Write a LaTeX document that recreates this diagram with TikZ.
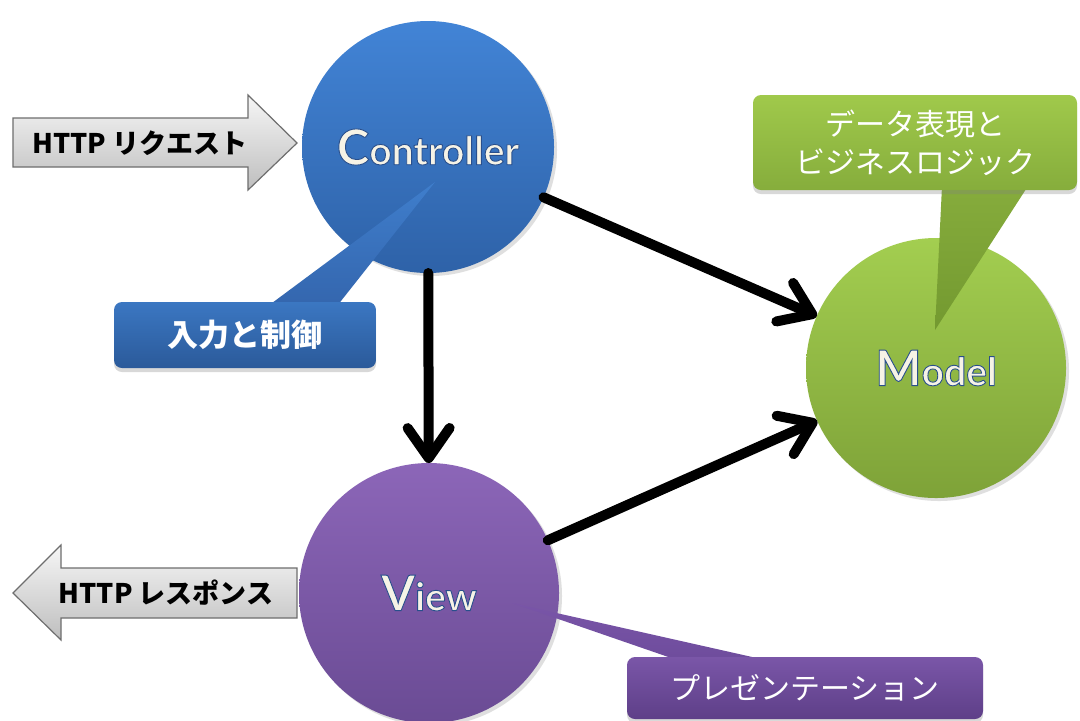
\documentclass[tikz,border=0pt]{standalone}
\usepackage{fontspec}
\setmainfont{Lato}
\newfontfamily\jp{Noto Sans CJK JP}
\usetikzlibrary{arrows.meta,shadows}

\definecolor{ctrlT}{HTML}{4284D6}
\definecolor{ctrlB}{HTML}{2E62A8}
\definecolor{modT}{HTML}{A3CE50}
\definecolor{modB}{HTML}{7EA238}
\definecolor{viewT}{HTML}{8C66B8}
\definecolor{viewB}{HTML}{6A4B94}
\definecolor{bluT}{HTML}{3B77C2}
\definecolor{bluB}{HTML}{2B5A9A}
\definecolor{bluTailT}{HTML}{3F7ECC}
\definecolor{bluTailB}{HTML}{3466AE}
\definecolor{grnT}{HTML}{A0C94B}
\definecolor{grnB}{HTML}{86AD3C}
\definecolor{grnTailT}{HTML}{86AC3C}
\definecolor{grnTailB}{HTML}{739930}
\definecolor{purT}{HTML}{7A56A8}
\definecolor{purB}{HTML}{5E3F88}
\definecolor{purTailT}{HTML}{7955A8}
\definecolor{purTailB}{HTML}{6E4C9C}
\definecolor{cream}{HTML}{F6F3E6}
\definecolor{httpT}{HTML}{F6F6F6}
\definecolor{httpB}{HTML}{BEBEBE}
\definecolor{httpE}{HTML}{6E6E6E}

\newcommand\mvclabel[2]{\special{pdf:literal direct q 2 Tr 0.45 w 0.16 0.31 0.55 RG}{\bfseries\fontsize{24.5}{24}\selectfont #1}{\bfseries\fontsize{19.5}{19}\selectfont #2}\special{pdf:literal direct Q}}

\begin{document}
\begin{tikzpicture}[x=0.5pt,y=-0.5pt,
  mvc/.style={circle, inner sep=0pt, outer sep=0pt, minimum size=#1, text=cream,
     drop shadow={shadow xshift=1.5pt, shadow yshift=-1.5pt, opacity=0.25}},
  conn/.style={line width=5pt, line cap=round, line join=round,
     -{Straight Barb[length=15pt,width=21pt,round]}},
  httpbox/.style={draw=httpE, line width=0.6pt, top color=httpT, bottom color=httpB},
  httptext/.style={font=\jp\bfseries\fontsize{13.5}{16}\selectfont, text=black, inner sep=0pt},
  callbox/.style={rounded corners=4pt, inner sep=0pt, text=white, align=center,
     font=\jp\fontsize{15}{19}\selectfont,
     drop shadow={shadow xshift=0pt, shadow yshift=-2pt, opacity=0.3}},
]
\useasboundingbox (0,0) rectangle (1080,720);
\fill[white] (0,0) rectangle (1080,720);
\clip (0,0) rectangle (1080,720);

% HTTP arrows
\path[httpbox] (13,118) -- (248,118) -- (248,95) -- (297,143) -- (248,190) -- (248,167) -- (13,167) -- cycle;
\node[httptext] (req) at (140,143) {HTTP リクエスト};
\path[httpbox] (297,568) -- (61,568) -- (61,545) -- (13,593) -- (61,640) -- (61,618) -- (297,618) -- cycle;
\node[httptext] (res) at (166,593) {HTTP レスポンス};

% circles
\node[mvc=126pt, top color=ctrlT, bottom color=ctrlB] (ctrl) at (428,147) {\mvclabel{C}{ontroller}};
\node[mvc=130pt, top color=modT, bottom color=modB] (model) at (936,368) {\mvclabel{M}{odel}};
\node[mvc=130pt, top color=viewT, bottom color=viewB] (view) at (429,593) {\mvclabel{V}{iew}};

% connectors
\draw[conn] (ctrl) -- (view);
\draw[conn] (ctrl) -- (model);
\draw[conn] (view) -- (model);

% callouts
\coordinate (ctrlpt) at (435,182);
\path[top color=bluTailT, bottom color=bluTailB] (268,306) -- (337,306) -- (ctrlpt) -- cycle;
\node[callbox, minimum width=131pt, minimum height=33pt, top color=bluT, bottom color=bluB,
      font=\jp\bfseries\fontsize{15.5}{19}\selectfont] (ctrlnote) at (245,335) {入力と制御};

\coordinate (modelpt) at (935,330);
\path[top color=grnTailT, bottom color=grnTailB] (942,186) -- (1028,186) -- (modelpt) -- cycle;
\node[callbox, minimum width=162pt, minimum height=47.5pt, top color=grnT, bottom color=grnB] (modelnote) at (915,142.5) {データ表現と\\ビジネスロジック};

\coordinate (viewpt) at (512,603);
\path[top color=purTailT, bottom color=purTailB] (680,661) -- (770,661) -- (viewpt) -- cycle;
\node[callbox, minimum width=178pt, minimum height=31pt, top color=purT, bottom color=purB] (viewnote) at (805,688) {プレゼンテーション};
\end{tikzpicture}
\end{document}
